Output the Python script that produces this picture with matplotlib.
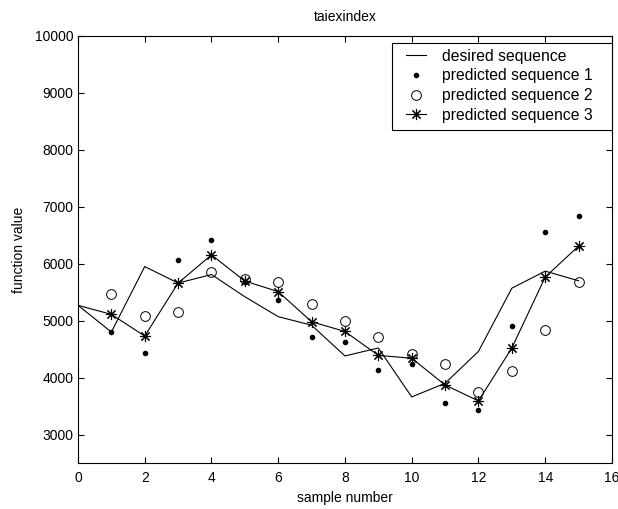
import matplotlib
matplotlib.use('Agg')
import matplotlib.pyplot as plt
from matplotlib.patches import Rectangle

plt.rcParams['font.family'] = ['Liberation Sans', 'DejaVu Sans']
plt.rcParams['font.size'] = 10

# sample numbers
samples = list(range(0, 16))
pred_samples = list(range(1, 16))

desired = [5270, 4800, 5950, 5660, 5810, 5420, 5070, 4920,
           4380, 4520, 3660, 3900, 4460, 5570, 5870, 5700]
pred1 = [4800, 4430, 6070, 6410, 5680, 5360, 4720,
         4630, 4130, 4235, 3550, 3430, 4900, 6550, 6830]
pred2 = [5460, 5090, 5160, 5850, 5725, 5680, 5290,
         5000, 4720, 4410, 4235, 3740, 4110, 4830, 5685]
# predicted sequence 3 starts from the same initial value as the desired one
pred3 = [5270, 5110, 4730, 5660, 6155, 5695, 5510, 4980,
         4810, 4390, 4340, 3870, 3590, 4520, 5765, 6310]

fig = plt.figure(figsize=(6.18, 5.09), dpi=100)
ax = fig.add_axes([0.1262, 0.0904, 0.864, 0.8389])

ax.plot(samples, desired, '-', color='black', lw=0.8, label='desired sequence')
ax.plot(pred_samples, pred1, 'o', color='black', ms=3, ls='none',
        label='predicted sequence 1')
ax.plot(pred_samples, pred2, 'o', mfc='none', mec='black', ms=7, mew=0.7,
        ls='none', label='predicted sequence 2')
ax.plot(samples, pred3, '-', color='black', lw=0.8, marker=(8, 2, 0), ms=8,
        mew=0.8, markevery=list(range(1, 16)), label='predicted sequence 3')

ax.set_xlim(0, 16)
ax.set_ylim(2500, 10000)
ax.set_xticks(range(0, 17, 2))
ax.set_yticks(range(3000, 10001, 1000))
ax.tick_params(direction='in', top=True, right=True, length=4, width=0.8)
ax.tick_params(axis='x', pad=6)
for s in ax.spines.values():
    s.set_linewidth(0.8)

ax.set_title('taiexindex', fontsize=10, pad=11)
ax.set_xlabel('sample number', labelpad=4)
ax.set_ylabel('function value', labelpad=6)

# legend box drawn separately so it can have a wider right margin
ax.add_patch(Rectangle((0.588, 0.7804), 0.412, 0.2032, transform=ax.transAxes,
                       facecolor='white', edgecolor='black', lw=0.8,
                       zorder=4.5, clip_on=False))
ax.legend(loc='upper right', bbox_to_anchor=(0.9757, 0.985), frameon=False,
          fontsize=11.3, handlelength=1.3, borderpad=0.4, labelspacing=0.3,
          handletextpad=1.0, borderaxespad=0.0)

fig.savefig('out.png', dpi=100)
